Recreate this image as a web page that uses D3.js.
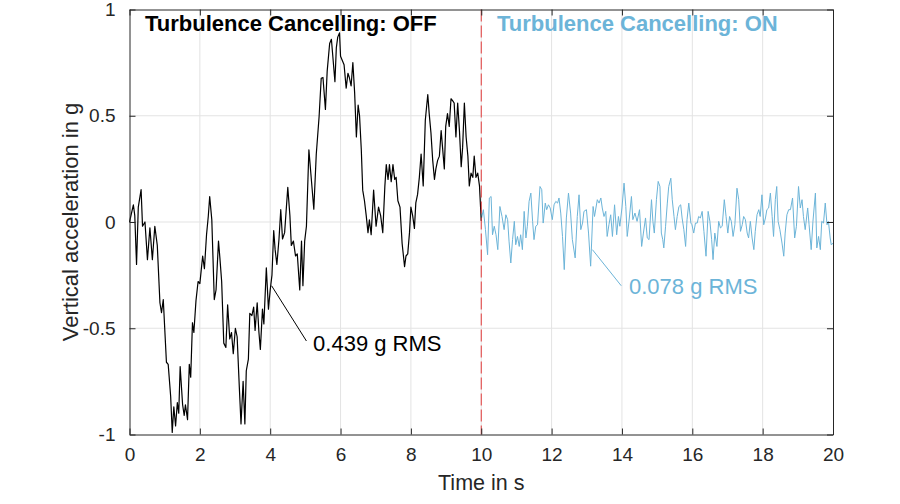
<!DOCTYPE html>
<html>
<head>
<meta charset="utf-8">
<script src="https://cdn.jsdelivr.net/npm/d3@7"></script>
<style>
  html, body { margin: 0; padding: 0; background: #fff; }
  svg { display: block; font-family: "Liberation Sans", Arial, Helvetica, sans-serif; }
</style>
</head>
<body>
<svg id="chart" width="900" height="504"></svg>
<script>
// ---- Data ----
const offTime = [0,0.11,0.15,0.2,0.25,0.33,0.37,0.44,0.51,0.58,0.65,0.72,0.79,0.865,0.91,0.96,1.05,1.10,1.17,1.215,1.26,1.31,1.36,1.40,1.44,1.51,1.555,1.59,1.65,1.70,1.74,1.79,1.83,1.89,1.95,2.0,2.08,2.13,2.19,2.24,2.28,2.34,2.41,2.46,2.53,2.57,2.62,2.68,2.74,2.79,2.85,2.90,2.95,3.01,3.06,3.12,3.17,3.23,3.28,3.32,3.38,3.42,3.48,3.53,3.57,3.63,3.68,3.72,3.78,3.82,3.89,3.95,4.0,4.05,4.1,4.14,4.19,4.25,4.3,4.35,4.41,4.5,4.56,4.6,4.66,4.72,4.77,4.84,4.89,4.93,4.98,5.03,5.10,5.17,5.24,5.31,5.39,5.45,5.50,5.57,5.62,5.69,5.74,5.78,5.84,5.88,5.92,5.97,6.0,6.05,6.10,6.16,6.21,6.25,6.30,6.35,6.40,6.45,6.50,6.54,6.59,6.63,6.68,6.73,6.78,6.82,6.87,6.94,7.01,7.08,7.14,7.2,7.26,7.3,7.35,7.39,7.44,7.49,7.54,7.58,7.63,7.69,7.75,7.82,7.86,7.91,7.96,8.0,8.05,8.10,8.14,8.19,8.24,8.29,8.35,8.41,8.48,8.52,8.57,8.62,8.67,8.71,8.76,8.81,8.86,8.9,8.95,8.99,9.04,9.09,9.14,9.19,9.23,9.28,9.33,9.38,9.43,9.47,9.52,9.57,9.62,9.66,9.71,9.76,9.8,9.85,9.9,9.95,10.0];
const offAccel = [0,0.081,0.03,-0.2,0.07,0.152,-0.02,0,-0.177,-0.027,-0.177,-0.02,-0.11,-0.38,-0.427,-0.365,-0.66,-0.67,-0.82,-0.99,-0.87,-0.96,-0.85,-0.9,-0.68,-0.86,-0.91,-0.86,-0.93,-0.67,-0.73,-0.474,-0.52,-0.37,-0.28,-0.29,-0.16,-0.22,-0.06,0.027,0.12,0.01,-0.365,-0.32,-0.09,-0.17,-0.28,-0.57,-0.59,-0.39,-0.55,-0.52,-0.62,-0.5,-0.54,-0.77,-0.95,-0.75,-0.95,-0.7,-0.645,-0.43,-0.44,-0.4,-0.51,-0.38,-0.52,-0.6,-0.41,-0.48,-0.216,-0.41,-0.32,-0.25,-0.04,-0.13,-0.2,-0.08,0.058,-0.08,-0.05,0.163,0.03,-0.11,-0.09,-0.16,-0.15,-0.32,-0.09,-0.3,-0.09,-0.02,0.34,0.2,0.06,0.32,0.495,0.676,0.68,0.53,0.71,0.84,0.86,0.78,0.66,0.82,0.87,0.89,0.78,0.76,0.74,0.63,0.7,0.68,0.64,0.75,0.61,0.4,0.55,0.5,0.34,0.15,0.1,0.03,-0.05,0.01,-0.06,0.15,-0.02,0.07,0.03,-0.05,0.17,0.27,0.2,0.27,0.19,0.27,0.2,0.21,0.1,0.07,-0.1,-0.21,-0.16,-0.15,-0.05,0.07,0.03,-0.03,0.09,0.13,0.21,0.32,0.17,0.48,0.6,0.51,0.42,0.29,0.2,0.25,0.29,0.31,0.43,0.35,0.25,0.45,0.51,0.45,0.58,0.57,0.56,0.4,0.56,0.43,0.26,0.35,0.56,0.4,0.31,0.17,0.23,0.21,0.31,0.21,0.23,0.17,0.005];

const onTime = [10.0,10.06,10.12,10.18,10.23,10.28,10.32,10.37,10.42,10.47,10.53,10.59,10.65,10.70,10.75,10.79,10.84,10.89,10.94,10.98,11.03,11.08,11.12,11.17,11.22,11.27,11.31,11.36,11.41,11.46,11.50,11.55,11.60,11.67,11.72,11.76,11.82,11.86,11.91,11.96,12.02,12.07,12.12,12.17,12.21,12.26,12.31,12.36,12.42,12.48,12.54,12.59,12.67,12.73,12.78,12.83,12.88,12.92,12.99,13.05,13.11,13.18,13.22,13.30,13.35,13.40,13.44,13.49,13.54,13.58,13.63,13.68,13.73,13.79,13.85,13.90,13.94,14.0,14.06,14.11,14.15,14.20,14.27,14.31,14.37,14.43,14.50,14.56,14.61,14.67,14.72,14.77,14.84,14.88,14.92,14.98,15.03,15.08,15.12,15.16,15.19,15.24,15.29,15.33,15.39,15.43,15.48,15.52,15.57,15.62,15.67,15.71,15.76,15.81,15.85,15.90,15.96,15.99,16.04,16.09,16.14,16.18,16.23,16.28,16.33,16.39,16.45,16.50,16.55,16.59,16.64,16.70,16.75,16.80,16.85,16.91,16.96,17.01,17.06,17.11,17.16,17.21,17.27,17.32,17.37,17.42,17.46,17.51,17.56,17.60,17.65,17.70,17.75,17.79,17.84,17.89,17.93,17.98,18.03,18.08,18.12,18.17,18.22,18.27,18.31,18.36,18.40,18.44,18.49,18.55,18.60,18.64,18.69,18.74,18.79,18.85,18.91,18.96,19.02,19.07,19.12,19.16,19.21,19.28,19.32,19.38,19.43,19.50,19.54,19.59,19.64,19.68,19.73,19.78,19.83,19.87,19.92,19.95,20.0];
const onAccel = [0.011,0.058,-0.036,-0.154,0.113,0.12,-0.06,-0.02,-0.06,-0.13,0.073,0.026,-0.036,0.034,0.011,-0.09,-0.193,-0.083,0.003,-0.107,-0.068,-0.115,-0.06,-0.13,0.05,-0.075,-0.02,0.097,0.136,0.003,-0.083,-0.02,-0.013,0.167,0.152,-0.005,0.089,0.058,0.081,0.066,0.011,0.081,0.097,0.089,0.113,0.042,-0.068,-0.224,0.019,0.136,0.042,-0.083,-0.169,0.026,0.128,-0.036,-0.005,0.05,0.058,-0.052,-0.208,0.073,0.026,0.105,0.089,0.113,0.066,0.026,0.05,-0.068,-0.013,0.034,-0.068,0.081,-0.06,0.026,-0.02,0.066,0.183,0.073,-0.068,0.003,0.12,0.011,0.042,0.003,0.058,-0.115,-0.052,0.019,-0.075,-0.083,0.105,0.003,-0.052,0.105,0.191,0.167,-0.052,-0.083,-0.122,-0.02,0.089,0.167,0.206,0.105,0.026,-0.036,0.026,0.073,0.081,0.019,-0.036,-0.115,0.011,0.089,-0.005,-0.013,-0.052,-0.005,-0.005,0.026,0.019,0.05,-0.044,-0.161,0.05,0.003,-0.083,-0.177,-0.052,-0.115,0.003,-0.028,-0.02,0.105,0.026,-0.052,0.026,0.003,-0.068,-0.013,0.159,0.105,-0.044,-0.013,0.026,0.011,-0.052,-0.075,0.003,-0.075,-0.13,-0.044,0.034,0.058,0.026,0.128,-0.013,0.019,0.058,0.066,0.136,0.026,-0.068,0.105,0.167,0.003,-0.036,-0.099,-0.161,-0.052,0.034,0.058,0.058,0.113,-0.075,-0.02,0.167,0.066,0.105,0.026,-0.036,0.066,-0.013,-0.13,0.003,0.136,-0.122,-0.068,-0.13,0.003,-0.005,0.089,-0.013,0.003,-0.075,-0.107,-0.1];

const xTicks = [0,2,4,6,8,10,12,14,16,18,20];
const yTicks = [-1,-0.5,0,0.5,1];
const yTickLabels = ["-1","-0.5","0","0.5","1"];
const switchTime = 10;
const titleOff = "Turbulence Cancelling: OFF";
const titleOn = "Turbulence Cancelling: ON";
const rmsOff = "0.439 g RMS";
const rmsOn = "0.078 g RMS";
// annotation anchors in data units: [lineStartT, lineStartV, lineEndT, lineEndV, textT, textV]
const annOff = [4.04, -0.30, 5.03, -0.56, 5.22, -0.605];
const annOn = [13.16, -0.13, 13.98, -0.30, 14.2, -0.34];

// ---- Layout ----
const W = 900, H = 504;
const L = 129.5, R = 833, T = 9.5, B = 434.5;
const black = "#000000", blue = "#6cb4d8", red = "#e23b3b";

const svg = d3.select("#chart");
svg.append("rect").attr("width", W).attr("height", H).attr("fill", "#fff");

const x = d3.scaleLinear().domain([0, 20]).range([L, R]);
const y = d3.scaleLinear().domain([-1, 1]).range([B, T]);

// grid
const grid = svg.append("g");
grid.selectAll("line.gx").data(xTicks.slice(1, -1)).join("line")
  .attr("x1", d => x(d)).attr("x2", d => x(d)).attr("y1", T).attr("y2", B)
  .attr("stroke", "#e3e3e3").attr("stroke-width", 1);
grid.selectAll("line.gy").data(yTicks.slice(1, -1)).join("line")
  .attr("x1", L).attr("x2", R).attr("y1", d => y(d)).attr("y2", d => y(d))
  .attr("stroke", "#e3e3e3").attr("stroke-width", 1);

// lines
const line = d3.line().x(d => x(d[0])).y(d => y(d[1]));
svg.append("path").datum(onTime.map((t, i) => [t, onAccel[i]]))
  .attr("d", line).attr("fill", "none").attr("stroke", blue).attr("stroke-width", 1).attr("stroke-linejoin", "round");
svg.append("path").datum(offTime.map((t, i) => [t, offAccel[i]]))
  .attr("d", line).attr("fill", "none").attr("stroke", black).attr("stroke-width", 1.2).attr("stroke-linejoin", "round");

// switch line
svg.append("line").attr("x1", x(switchTime)).attr("x2", x(switchTime)).attr("y1", T).attr("y2", B)
  .attr("stroke", red).attr("stroke-width", 1).attr("stroke-dasharray", "12,4");

// axes (box with inward ticks on all sides)
const axisColor = "#262626";
const tickLen = 6;
const fmt = (d) => yTickLabels[yTicks.indexOf(d)];
const axB = d3.axisBottom(x).tickValues(xTicks).tickSizeInner(-tickLen).tickSizeOuter(0).tickPadding(13).tickFormat(d3.format("d"));
const axT = d3.axisTop(x).tickValues(xTicks).tickSizeInner(-tickLen).tickSizeOuter(0).tickFormat("");
const axL = d3.axisLeft(y).tickValues(yTicks).tickSizeInner(-tickLen).tickSizeOuter(0).tickPadding(14).tickFormat(fmt);
const axR = d3.axisRight(y).tickValues(yTicks).tickSizeInner(-tickLen).tickSizeOuter(0).tickFormat("");

function styleAxis(g) {
  g.select(".domain").attr("stroke", axisColor).attr("stroke-width", 1);
  g.selectAll(".tick line").attr("stroke", axisColor).attr("stroke-width", 1);
  g.selectAll(".tick text").attr("fill", "#262626").attr("font-size", 19)
    .attr("font-family", "'Liberation Sans', Arial, sans-serif");
}
svg.append("g").attr("transform", `translate(0,${B})`).call(axB).call(styleAxis);
svg.append("g").attr("transform", `translate(0,${T})`).call(axT).call(styleAxis);
svg.append("g").attr("transform", `translate(${L},0)`).call(axL).call(styleAxis);
svg.append("g").attr("transform", `translate(${R},0)`).call(axR).call(styleAxis);

// axis labels
svg.append("text").attr("x", (L + R) / 2).attr("y", 490).attr("text-anchor", "middle")
  .attr("font-size", 21.5).attr("fill", "#262626").text("Time in s");
svg.append("text").attr("transform", `translate(78,${(T + B) / 2}) rotate(-90)`).attr("text-anchor", "middle")
  .attr("font-size", 22).attr("fill", "#262626").text("Vertical acceleration in g");

// titles
svg.append("text").attr("x", 145).attr("y", 31).attr("font-size", 22).attr("font-weight", "bold")
  .attr("fill", black).text(titleOff);
svg.append("text").attr("x", 497).attr("y", 31).attr("font-size", 22).attr("font-weight", "bold")
  .attr("fill", blue).text(titleOn);

// annotations
function annotate(a, txt, col) {
  svg.append("line").attr("x1", x(a[0])).attr("y1", y(a[1])).attr("x2", x(a[2])).attr("y2", y(a[3]))
    .attr("stroke", col).attr("stroke-width", 1);
  svg.append("text").attr("x", x(a[4])).attr("y", y(a[5])).attr("font-size", 22)
    .attr("fill", col).text(txt);
}
annotate(annOff, rmsOff, black);
annotate(annOn, rmsOn, blue);
</script>
</body>
</html>
